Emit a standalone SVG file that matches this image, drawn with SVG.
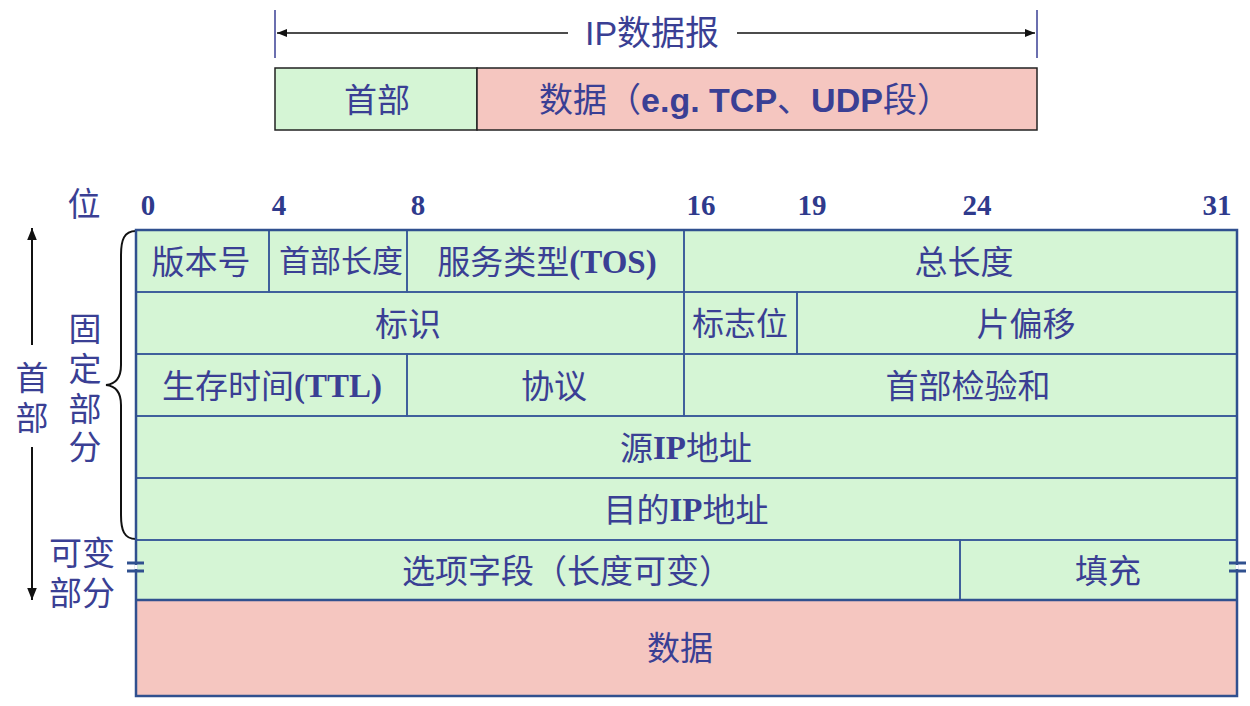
<svg xmlns="http://www.w3.org/2000/svg" width="1250" height="706" viewBox="0 0 1250 706">
<defs>
<style>
.t{font-family:"Liberation Sans","Noto Sans CJK SC",sans-serif;font-size:33px;fill:#3a3f94;text-anchor:middle;dominant-baseline:central}
.b{font-weight:bold}
.s{font-family:"Liberation Serif",serif;font-weight:bold}
.n{font-family:"Liberation Serif","Noto Sans CJK SC",serif;font-size:29px;font-weight:bold;fill:#2f3a8c;text-anchor:middle}
.g{fill:#d5f5d5}
.p{fill:#f5c6c0}
.cell{stroke:#3a5a9a;stroke-width:1.6;fill:none}
.outer{stroke:#30508f;stroke-width:2.5;fill:none}
.blk{stroke:#111;stroke-width:2;fill:none}
</style>
<marker id="ah" viewBox="0 0 10 10" refX="10" refY="5" markerWidth="10" markerHeight="10" markerUnits="userSpaceOnUse" orient="auto"><path d="M0,1 L10,5 L0,9 z" fill="#111"/></marker>
<marker id="ah2" viewBox="0 0 10 10" refX="10" refY="5" markerWidth="12" markerHeight="14" markerUnits="userSpaceOnUse" orient="auto"><path d="M0,1 L10,5 L0,9 z" fill="#111"/></marker>
</defs>
<rect width="1250" height="706" fill="#fff"/>

<g id="connectors">
<line x1="275" y1="10" x2="275" y2="58" stroke="#3a3f94" stroke-width="1.5"/>
<line x1="1037" y1="10" x2="1037" y2="58" stroke="#3a3f94" stroke-width="1.5"/>
<line x1="568" y1="33" x2="277" y2="33" stroke="#111" stroke-width="1.5" marker-end="url(#ah)"/>
<line x1="737" y1="33" x2="1035" y2="33" stroke="#111" stroke-width="1.5" marker-end="url(#ah)"/>
<line x1="32" y1="345" x2="32" y2="228" stroke="#111" stroke-width="2" marker-end="url(#ah2)"/>
<line x1="32" y1="447" x2="32" y2="600" stroke="#111" stroke-width="2" marker-end="url(#ah2)"/>
<path class="blk" d="M136,231 C124,231 121,240 121,255 L121,365 C121,378 116,384 106,385 C116,386 121,392 121,405 L121,515 C121,530 124,539 136,539"/>
</g>

<g id="datagram-label"><text class="t" x="652" y="33" style="font-size:34px">IP数据报</text></g>

<g id="top-header"><rect x="275" y="68" width="202" height="62" class="g" stroke="#222" stroke-width="1.5"/><text class="t" x="377" y="100">首部</text></g>
<g id="top-data"><rect x="477" y="68" width="560" height="62" class="p" stroke="#222" stroke-width="1.5"/><text class="t" x="745" y="100" style="font-size:34px">数据（<tspan class="b">e.g. TCP</tspan>、<tspan class="b">UDP</tspan>段）</text></g>

<g id="bit-labels">
<text class="t" x="84" y="204">位</text>
<text class="n" x="148" y="215">0</text>
<text class="n" x="279" y="215">4</text>
<text class="n" x="418" y="215">8</text>
<text class="n" x="701" y="215">16</text>
<text class="n" x="812" y="215">19</text>
<text class="n" x="977" y="215">24</text>
<text class="n" x="1217" y="215">31</text>
</g>

<g id="side-labels">
<text class="t" x="32" y="378">首</text>
<text class="t" x="32" y="418">部</text>
<text class="t" x="85" y="329">固</text>
<text class="t" x="85" y="369">定</text>
<text class="t" x="85" y="409">部</text>
<text class="t" x="85" y="447">分</text>
<text class="t" x="82" y="553">可变</text>
<text class="t" x="82" y="593">部分</text>
</g>

<rect x="136" y="230" width="1101" height="370" class="g"/>
<rect x="136" y="600" width="1101" height="96" class="p"/>

<g id="version"><rect x="136" y="230" width="133" height="62" class="cell"/><text class="t" x="201" y="262">版本号</text></g>
<g id="ihl"><rect x="269" y="230" width="138" height="62" class="cell"/><text class="t" x="341" y="261" style="font-size:31px">首部长度</text></g>
<g id="tos"><rect x="407" y="230" width="277" height="62" class="cell"/><text class="t" x="547" y="262">服务类型<tspan class="s">(TOS)</tspan></text></g>
<g id="total-length"><rect x="684" y="230" width="553" height="62" class="cell"/><text class="t" x="964" y="262">总长度</text></g>
<g id="identification"><rect x="136" y="292" width="548" height="62" class="cell"/><text class="t" x="408" y="324">标识</text></g>
<g id="flags"><rect x="684" y="292" width="113" height="62" class="cell"/><text class="t" x="740" y="324" style="font-size:32px">标志位</text></g>
<g id="fragment-offset"><rect x="797" y="292" width="440" height="62" class="cell"/><text class="t" x="1026" y="324">片偏移</text></g>
<g id="ttl"><rect x="136" y="354" width="271" height="62" class="cell"/><text class="t" x="272" y="386">生存时间<tspan class="s">(TTL)</tspan></text></g>
<g id="protocol"><rect x="407" y="354" width="277" height="62" class="cell"/><text class="t" x="554" y="386">协议</text></g>
<g id="checksum"><rect x="684" y="354" width="553" height="62" class="cell"/><text class="t" x="968" y="386">首部检验和</text></g>
<g id="src"><rect x="136" y="416" width="1101" height="62" class="cell"/><text class="t" x="686" y="448">源<tspan class="s">IP</tspan>地址</text></g>
<g id="dst"><rect x="136" y="478" width="1101" height="62" class="cell"/><text class="t" x="686" y="510">目的<tspan class="s">IP</tspan>地址</text></g>
<g id="options"><rect x="136" y="540" width="824" height="60" class="cell"/><text class="t" x="567" y="571">选项字段（长度可变）</text></g>
<g id="padding"><rect x="960" y="540" width="277" height="60" class="cell"/><text class="t" x="1108" y="571">填充</text></g>
<g id="data"><rect x="136" y="600" width="1101" height="96" class="cell"/><text class="t" x="680" y="648">数据</text></g>

<rect x="136" y="230" width="1101" height="466" class="outer"/>
<line x1="136" y1="600" x2="1237" y2="600" stroke="#30508f" stroke-width="2.5"/>
<g id="breaks" stroke="#30508f" stroke-width="3">
<line x1="127" y1="563" x2="144" y2="563"/><line x1="127" y1="571" x2="144" y2="571"/>
<line x1="1229" y1="563" x2="1246" y2="563"/><line x1="1229" y1="571" x2="1246" y2="571"/>
<line x1="136" y1="565" x2="136" y2="569" stroke="#fff" stroke-width="3"/>
<line x1="1237" y1="565" x2="1237" y2="569" stroke="#fff" stroke-width="3"/>
</g>
</svg>
